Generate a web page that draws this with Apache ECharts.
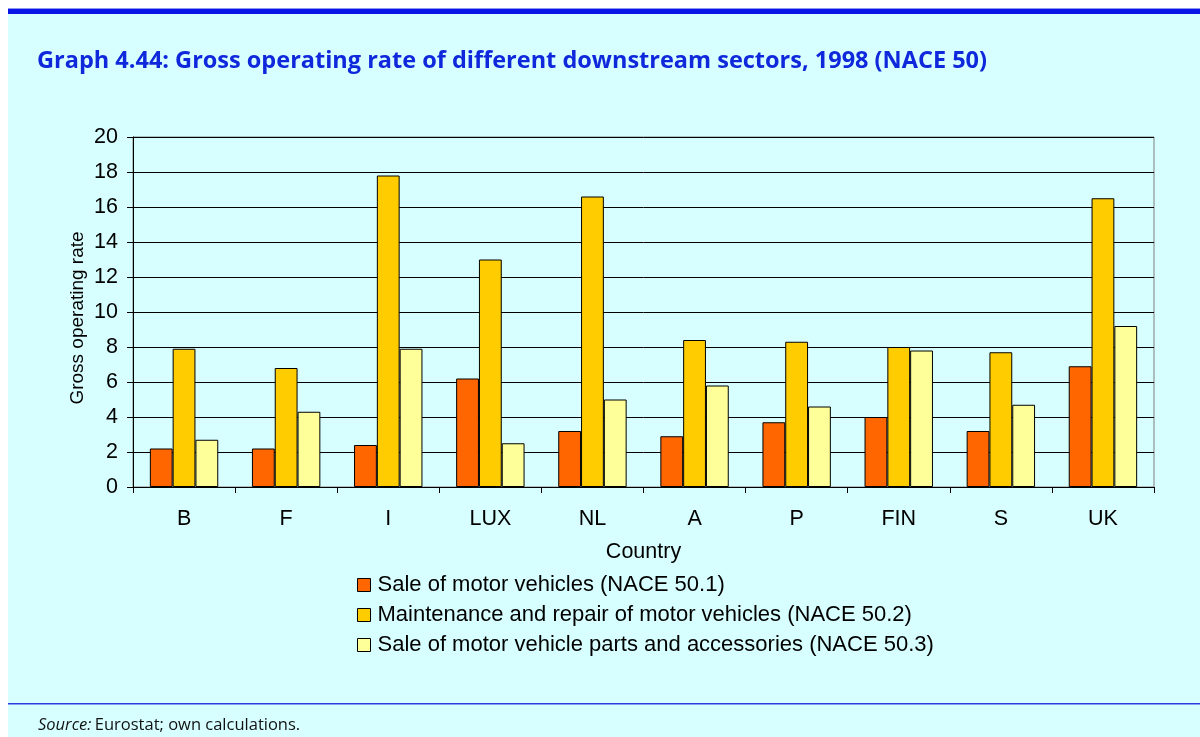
<!DOCTYPE html>
<html>
<head>
<meta charset="utf-8">
<title>Gross operating rate, NACE 50</title>
<script src="https://cdn.jsdelivr.net/npm/echarts@6/dist/echarts.min.js"></script>
<style>
  html, body { margin: 0; padding: 0; background: #ffffff; }
  #chart { width: 1200px; height: 737px; }
</style>
</head>
<body>
<div id="chart"></div>
<script>
// Countries along the category axis
const countries = ['B', 'F', 'I', 'LUX', 'NL', 'A', 'P', 'FIN', 'S', 'UK'];

// Gross operating rate by sector (NACE 50.1 / 50.2 / 50.3)
const saleVehicles = [2.2, 2.2, 2.4, 6.2, 3.2, 2.9, 3.7, 4.0, 3.2, 6.9];
const maintenanceRepair = [7.9, 6.8, 17.8, 13.0, 16.6, 8.4, 8.3, 8.0, 7.7, 16.5];
const partsAccessories = [2.7, 4.3, 7.9, 2.5, 5.0, 5.8, 4.6, 7.8, 4.7, 9.2];

const seriesNames = [
  'Sale of motor vehicles (NACE 50.1)',
  'Maintenance and repair of motor vehicles (NACE 50.2)',
  'Sale of motor vehicle parts and accessories (NACE 50.3)'
];

const chart = echarts.init(document.getElementById('chart'), null, { renderer: 'canvas' });

const sans = 'Liberation Sans, Arial, sans-serif';
const axisFont = { fontFamily: sans, fontSize: 21.5, color: '#000' };
const bg = '#d8ffff';

function barSeries(name, data, color) {
  return {
    name: name,
    type: 'bar',
    data: data,
    barGap: '0%',
    barCategoryGap: '33%',
    itemStyle: { color: color, borderColor: '#000', borderWidth: 1 },
    emphasis: { disabled: true }
  };
}

chart.setOption({
  animation: false,
  backgroundColor: '#ffffff',
  graphic: [
    // page panel
    { type: 'rect', z: -10, shape: { x: 8, y: 8, width: 1192, height: 729 }, style: { fill: bg } },
    // heading band
    { type: 'rect', z: -9, shape: { x: 8, y: 8, width: 1192, height: 1 }, style: { fill: '#8c96f0' } },
    { type: 'rect', z: -9, shape: { x: 8, y: 9, width: 1192, height: 5 }, style: { fill: '#0a14e6' } },
    // footer rule
    { type: 'rect', z: -9, shape: { x: 8, y: 703, width: 1192, height: 1.5 }, style: { fill: '#2a3ce0' } },
    {
      type: 'text', left: 38, top: 717,
      style: {
        rich: {
          i: { fontFamily: 'Open Sans, sans-serif', fontStyle: 'italic', fontSize: 16.5, fill: '#111' },
          n: { fontFamily: 'Open Sans, sans-serif', fontSize: 16.5, fill: '#111' }
        },
        text: '{i|Source:} {n|Eurostat; own calculations.}'
      }
    }
  ],
  title: {
    text: 'Graph 4.44: Gross operating rate of different downstream sectors, 1998 (NACE 50)',
    left: 32, top: 44,
    textStyle: { fontFamily: 'Open Sans, sans-serif', fontWeight: 'bold', fontSize: 23.5, color: '#0f28dc' }
  },
  legend: {
    orient: 'vertical',
    left: 352, top: 569,
    itemWidth: 13, itemHeight: 13, itemGap: 8,
    icon: 'rect',
    selectedMode: false,
    textStyle: { fontFamily: sans, fontSize: 22, color: '#000', padding: [0, 0, 0, 2] },
    itemStyle: { borderColor: '#000', borderWidth: 1 },
    data: seriesNames
  },
  grid: {
    left: 133, right: 46, top: 137, bottom: 250,
    show: true, borderColor: '#808080', borderWidth: 1, backgroundColor: 'transparent'
  },
  xAxis: {
    type: 'category',
    data: countries,
    name: 'Country',
    nameLocation: 'middle',
    nameGap: 54,
    nameMoveOverlap: false,
    nameTextStyle: axisFont,
    axisLine: { lineStyle: { color: '#000', width: 1 } },
    axisTick: { show: true, length: 6, lineStyle: { color: '#000' } },
    axisLabel: Object.assign({ margin: 21 }, axisFont),
    splitLine: { show: false }
  },
  yAxis: {
    type: 'value',
    min: 0, max: 20, interval: 2,
    name: 'Gross operating rate',
    nameLocation: 'middle',
    nameGap: 46,
    nameMoveOverlap: false,
    nameTextStyle: { fontFamily: sans, fontSize: 19, color: '#000', padding: [0, 12, 0, 0] },
    axisLine: { show: true, lineStyle: { color: '#000', width: 1 } },
    axisTick: { show: true, length: 6, lineStyle: { color: '#000' } },
    axisLabel: Object.assign({ margin: 15 }, axisFont),
    splitLine: { show: true, lineStyle: { color: '#000', width: 1 } }
  },
  series: [
    barSeries(seriesNames[0], saleVehicles, '#ff6600'),
    barSeries(seriesNames[1], maintenanceRepair, '#ffcc00'),
    barSeries(seriesNames[2], partsAccessories, '#ffff99')
  ]
});
</script>
</body>
</html>
